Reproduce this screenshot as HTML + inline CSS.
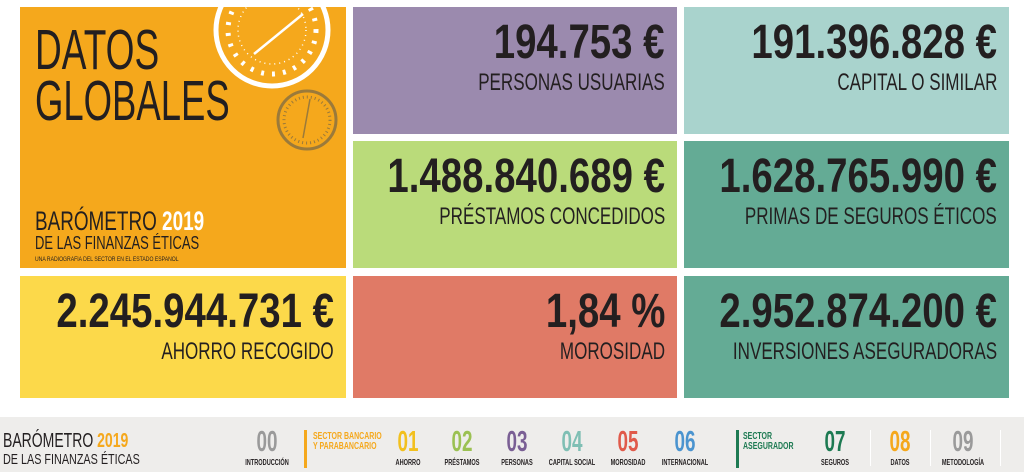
<!DOCTYPE html>
<html><head><meta charset="utf-8"><style>
*{margin:0;padding:0;box-sizing:border-box}
body{width:1024px;height:472px;background:#fff;position:relative;overflow:hidden;font-family:"Liberation Sans Narrow","Liberation Sans",sans-serif;color:#231f20}
.t{position:absolute}
.n,.l{position:absolute;right:12px;white-space:nowrap;transform-origin:right top;line-height:1}
.n{font-size:48px;font-weight:bold;transform:scaleX(.8)}
.l{font-size:24px;transform:scaleX(.71)}
.n{top:12px}.l{top:64px}
.abs{position:absolute;white-space:nowrap;line-height:1;transform-origin:left top}
.num{position:absolute;font-weight:bold;font-size:29px;line-height:1;transform:translateX(-50%) scaleX(.65);top:428px}
.lab{position:absolute;font-weight:bold;font-size:8px;line-height:1;transform:translateX(-50%) scaleX(.7);top:459px;color:#231f20}
</style></head><body>
<div class="t" style="left:20px;top:7px;width:326px;height:261px;background:#f5a81c;overflow:hidden">
<svg width="326" height="261" style="position:absolute;left:0;top:0">
<circle cx="252" cy="23" r="56" fill="none" stroke="#fff" stroke-width="5"/>
<circle cx="252" cy="23" r="44" fill="none" stroke="#fff" stroke-width="5" stroke-dasharray="3 8"/>
<circle cx="252" cy="23" r="34" fill="none" stroke="#fff" stroke-width="1.5" stroke-dasharray="1 4"/>
<line x1="234" y1="47" x2="283" y2="7" stroke="#fff" stroke-width="2.5"/>
<circle cx="287" cy="113" r="29" fill="none" stroke="#9b7a3a" stroke-width="3"/>
<circle cx="287" cy="113" r="23" fill="none" stroke="#9b7a3a" stroke-width="3" stroke-dasharray="1 3"/>
<line x1="283" y1="131" x2="290" y2="92" stroke="#9b7a3a" stroke-width="1.5"/>
</svg>
<div class="abs" style="left:15px;top:15px;font-size:57px;transform:scaleX(.65)">DATOS</div>
<div class="abs" style="left:15px;top:66px;font-size:57px;transform:scaleX(.64)">GLOBALES</div>
<div class="abs" style="left:15px;top:201px;font-size:27px;transform:scaleX(.7)">BARÓMETRO <b style="color:#fff">2019</b></div>
<div class="abs" style="left:15px;top:227px;font-size:18px;transform:scaleX(.72)">DE LAS FINANZAS ÉTICAS</div>
<div class="abs" style="left:15px;top:250px;font-size:6px;transform:scaleX(.85)">UNA RADIOGRAFÍA DEL SECTOR EN EL ESTADO ESPAÑOL</div>
</div>
<div class="t" style="left:353px;top:7px;width:324px;height:127px;background:#9b8aae"><div class="n">194.753 €</div><div class="l">PERSONAS USUARIAS</div></div>
<div class="t" style="left:684px;top:7px;width:325px;height:127px;background:#a9d3cd"><div class="n">191.396.828 €</div><div class="l">CAPITAL O SIMILAR</div></div>
<div class="t" style="left:353px;top:141px;width:324px;height:127px;background:#badb7a"><div class="n">1.488.840.689 €</div><div class="l">PRÉSTAMOS CONCEDIDOS</div></div>
<div class="t" style="left:684px;top:141px;width:325px;height:127px;background:#64ab95"><div class="n">1.628.765.990 €</div><div class="l">PRIMAS DE SEGUROS ÉTICOS</div></div>
<div class="t" style="left:20px;top:276px;width:326px;height:122px;background:#fcd94a"><div class="n">2.245.944.731 €</div><div class="l">AHORRO RECOGIDO</div></div>
<div class="t" style="left:353px;top:276px;width:324px;height:122px;background:#e07a66"><div class="n">1,84 %</div><div class="l">MOROSIDAD</div></div>
<div class="t" style="left:684px;top:276px;width:325px;height:122px;background:#64ab95"><div class="n">2.952.874.200 €</div><div class="l">INVERSIONES ASEGURADORAS</div></div>

<div class="t" style="left:0;top:417px;width:1024px;height:55px;background:#eeedeb"></div>
<div class="abs" style="left:3px;top:431px;font-size:20px;transform:scaleX(.7)">BARÓMETRO <b style="color:#f5a81c">2019</b></div>
<div class="abs" style="left:3px;top:452px;font-size:15px;transform:scaleX(.72)">DE LAS FINANZAS ÉTICAS</div>
<div class="t" style="left:304px;top:430px;width:3px;height:38px;background:#f5a81c"></div>
<div class="abs" style="left:313px;top:432px;font-size:10px;font-weight:bold;color:#f5a81c;transform:scaleX(.7)">SECTOR BANCARIO<br>Y PARABANCARIO</div>
<div class="t" style="left:736px;top:430px;width:3px;height:38px;background:#1d7a52"></div>
<div class="abs" style="left:743px;top:432px;font-size:10px;font-weight:bold;color:#1d7a52;transform:scaleX(.7)">SECTOR<br>ASEGURADOR</div>
<div class="t" style="left:870px;top:430px;width:1px;height:36px;background:#fff"></div>
<div class="t" style="left:930px;top:430px;width:1px;height:36px;background:#fff"></div>
<div class="t" style="left:1000px;top:430px;width:1px;height:36px;background:#fff"></div>
<div class="num" style="left:267px;color:#9a9a9a">00</div><div class="lab" style="left:267px">INTRODUCCIÓN</div>
<div class="num" style="left:408px;color:#f2c01e">01</div><div class="lab" style="left:408px">AHORRO</div>
<div class="num" style="left:462px;color:#9bc153">02</div><div class="lab" style="left:462px">PRÉSTAMOS</div>
<div class="num" style="left:517px;color:#7a5f94">03</div><div class="lab" style="left:517px">PERSONAS</div>
<div class="num" style="left:572px;color:#7fbfb4">04</div><div class="lab" style="left:572px">CAPITAL SOCIAL</div>
<div class="num" style="left:628px;color:#e05a4a">05</div><div class="lab" style="left:628px">MOROSIDAD</div>
<div class="num" style="left:685px;color:#4b94cf">06</div><div class="lab" style="left:685px">INTERNACIONAL</div>
<div class="num" style="left:835px;color:#1d7a52">07</div><div class="lab" style="left:835px">SEGUROS</div>
<div class="num" style="left:900px;color:#f5a81c">08</div><div class="lab" style="left:900px">DATOS</div>
<div class="num" style="left:963px;color:#9a9a9a">09</div><div class="lab" style="left:963px">METODOLOGÍA</div>
</body></html>
